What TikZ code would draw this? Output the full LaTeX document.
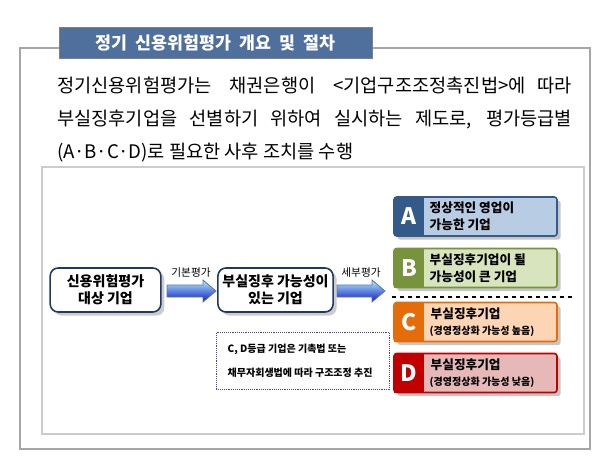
\documentclass[tikz,border=0pt]{standalone}
\usepackage{fontspec}
\setmainfont{Noto Sans CJK KR}
\usetikzlibrary{shadows}
\definecolor{titleb}{HTML}{4F6F9C}
\definecolor{Adark}{HTML}{345A8A}\definecolor{Alight}{HTML}{B8CCE4}
\definecolor{Bdark}{HTML}{77933C}\definecolor{Blight}{HTML}{D7E4BD}
\definecolor{Cdark}{HTML}{E46C0A}\definecolor{Clight}{HTML}{FCD5B5}
\definecolor{Ddark}{HTML}{C00000}\definecolor{Dlight}{HTML}{E6B9B8}
\definecolor{navy}{HTML}{1F3864}
\begin{document}
\begin{tikzpicture}[x=0.75pt,y=-0.75pt,
 proc/.style={draw=navy,line width=1.2pt,rounded corners=6pt,fill=white,drop shadow={opacity=0.4},minimum width=83pt,minimum height=33pt,align=center,font=\fontsize{10.5}{12.5}\selectfont\bfseries},
 garr/.style={draw=navy!70,line width=0.6pt,top color=blue!20!cyan!30,bottom color=blue!60!navy,shading angle=0},
 lbl/.style={font=\fontsize{8}{9}\selectfont}]
\useasboundingbox (0,0) rectangle (600,464);
\draw[gray!70,line width=0.8pt] (20,48) rectangle (590,449);
\draw[gray!40,line width=0.8pt] (42,167) rectangle (584,434);
\node[draw=gray,fill=titleb,minimum width=235pt,minimum height=23pt,text=white,font=\fontsize{13}{15}\selectfont\bfseries] (title) at (215.5,42.5) {정기\ \ 신용위험평가\ \ 개요\ \ 및\ \ 절차};
\node[anchor=north west,text width=386pt,align=justify,inner sep=0pt,font=\fontsize{14}{24.5}\selectfont] (para) at (57,77) {정기신용위험평가는\ \ \ 채권은행이\ \ \ <기업구조조정촉진법>에\ \ 따라 부실징후기업을 선별하기 위하여 실시하는 제도로, 평가등급별 (A·B·C·D)로 필요한 사후 조치를 수행};
\node[proc] (n1) at (105.5,290) {신용위험평가\\대상 기업};
\node[proc] (n2) at (275.5,290) {부실징후 가능성이\\있는 기업};
\draw[garr] (167,285)--(203,285)--(203,280)--(216,291)--(203,302)--(203,297)--(167,297)--cycle;
\draw[garr] (337,285)--(372,285)--(372,280)--(385,291)--(372,302)--(372,297)--(337,297)--cycle;
\node[lbl] (l1) at (191,273) {기본평가};
\node[lbl] (l2) at (361,273) {세부평가};
\node[draw=blue!50!gray,densely dotted,minimum width=130pt,minimum height=43pt] (note) at (303,361) {};
\node[anchor=west,font=\fontsize{7.5}{9}\selectfont\bfseries,align=left] (notet) at (223,361) {C, D등급 기업은 기촉법 또는\\[9pt]채무자회생법에 따라 구조조정 추진};
\foreach \n/\y/\d/\l/\t in {A/216.5/Adark/Alight/{정상적인 영업이\\가능한 기업},B/268/Bdark/Blight/{부실징후기업이 될\\가능성이 큰 기업}}{
 \draw[\d,line width=1.2pt,fill=\l,rounded corners=2pt,drop shadow={opacity=0.45}] (394,\y-19.5) rectangle (557,\y+19.5);
 \fill[\d] (394,\y-19.5) rectangle (424,\y+19.5);
 \node[text=white,font=\fontsize{17}{17}\selectfont\bfseries] (L\n) at (409,\y) {\n};
 \node[anchor=west,align=left,font=\fontsize{9.5}{13}\selectfont\bfseries] (T\n) at (425,\y) {\t};}
\foreach \n/\y/\d/\l/\t in {C/322/Cdark/Clight/{(경영정상화 가능성 높음)},D/373/Ddark/Dlight/{(경영정상화 가능성 낮음)}}{
 \draw[\d,line width=1.2pt,fill=\l,rounded corners=2pt,drop shadow={opacity=0.45}] (394,\y-19.5) rectangle (557,\y+19.5);
 \fill[\d] (394,\y-19.5) rectangle (424,\y+19.5);
 \node[text=white,font=\fontsize{17}{17}\selectfont\bfseries] (L\n) at (409,\y) {\n};
 \node[anchor=west,align=left,font=\fontsize{9.5}{11.5}\selectfont\bfseries] (T\n) at (426,\y-8) {부실징후기업};
 \node[anchor=west,font=\fontsize{7.5}{9}\selectfont\bfseries] (S\n) at (425,\y+9) {\t};}
\draw[dashed,line width=1.3pt] (392,297)--(573,297);
\end{tikzpicture}
\end{document}
